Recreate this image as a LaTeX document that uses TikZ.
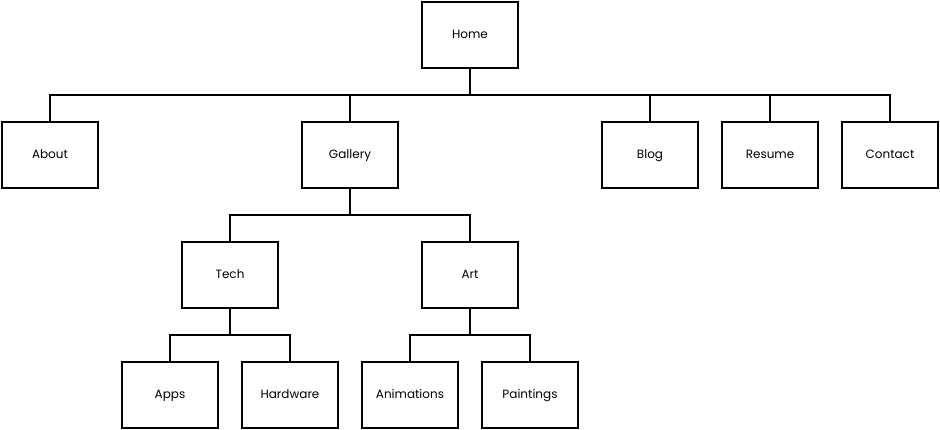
\documentclass[tikz,border=0pt]{standalone}
\usepackage{fontspec}
\setmainfont{Poppins}
\usetikzlibrary{positioning}
\tikzset{
        % Page boxes
        page/.style={draw=black, line width=2pt, fill=white, minimum width=96pt, minimum height=66pt, inner sep=0pt, text height=1.6ex, text depth=0.4ex, font=\fontsize{12}{14}\selectfont},
        % Connectors
        link/.style={draw=black, line width=1.7pt}
}
\begin{document}
\begin{tikzpicture}[x=1pt, y=-1pt]
            \useasboundingbox (0,0) rectangle (940,430);
            % Top level
            \node[page] (home) at (470,35) {Home};
            % Second level
            \node[page] (about)   at (50,155)  {About};
            \node[page] (gallery) at (350,155) {Gallery};
            \node[page] (blog)    at (650,155) {Blog};
            \node[page] (resume)  at (770,155) {Resume};
            \node[page] (contact) at (890,155) {Contact};
            % Third level
            \node[page] (tech) at (230,275) {Tech};
            \node[page] (art)  at (470,275) {Art};
            % Fourth level
            \node[page] (apps)       at (170,395) {Apps};
            \node[page] (hardware)   at (290,395) {Hardware};
            \node[page] (animations) at (410,395) {Animations};
            \node[page] (paintings)  at (530,395) {Paintings};
            % Bus points
            \coordinate (homebus)    at (470,95);
            \coordinate (gallerybus) at (350,215);
            \coordinate (techbus)    at (230,335);
            \coordinate (artbus)     at (470,335);
            % Connectors
            \foreach \child in {about,gallery,blog,resume,contact}
                \draw[link] (home.south) -- (homebus) -| (\child.north);
            \foreach \child in {tech,art}
                \draw[link] (gallery.south) -- (gallerybus) -| (\child.north);
            \foreach \child in {apps,hardware}
                \draw[link] (tech.south) -- (techbus) -| (\child.north);
            \foreach \child in {animations,paintings}
                \draw[link] (art.south) -- (artbus) -| (\child.north);
        \end{tikzpicture}
\end{document}
